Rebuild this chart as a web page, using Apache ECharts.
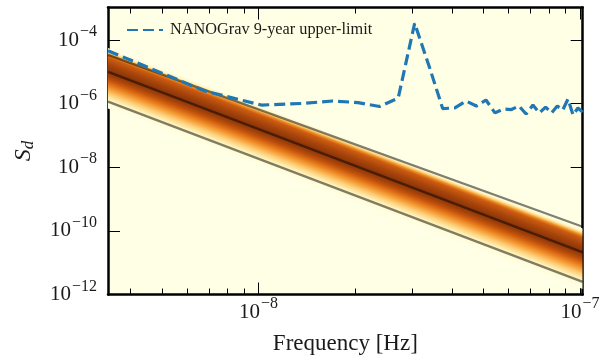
<!DOCTYPE html>
<html><head><meta charset="utf-8">
<script src="https://cdn.jsdelivr.net/npm/echarts@6/dist/echarts.min.js"></script>
<style>html,body{margin:0;padding:0;background:#fff}#c{width:601px;height:360px}</style>
</head><body><div id="c"></div>
<script>
// NANOGrav 9-year upper limit (frequency in Hz, S_d)
const limitFreq = [3.4e-9, 6.8e-9, 1.02e-8, 1.36e-8, 1.7e-8, 2.04e-8, 2.38e-8, 2.72e-8, 3.06e-8, 3.4e-8,
  3.74e-8, 4.08e-8, 4.42e-8, 4.76e-8, 5.1e-8, 5.44e-8, 5.78e-8, 6.12e-8, 6.46e-8, 6.8e-8,
  7.14e-8, 7.48e-8, 7.82e-8, 8.16e-8, 8.5e-8, 8.84e-8, 9.18e-8, 9.52e-8, 9.86e-8, 1.02e-7];
const limitSd = [4.6e-5, 2.5e-6, 9.0e-7, 1.01e-6, 1.21e-6, 1.08e-6, 8.1e-7, 1.5e-6, 3.35e-4, 1.42e-5,
  7.0e-7, 7.3e-7, 1.21e-6, 8.4e-7, 1.3e-6, 5.1e-7, 6.8e-7, 6.5e-7, 8.4e-7, 4.7e-7,
  9.0e-7, 5.1e-7, 7.8e-7, 5.1e-7, 8.4e-7, 6.3e-7, 1.4e-6, 4.4e-7, 7.3e-7, 5.4e-7];
// model band: centre (median) line and bounding lines at the two ends of the frequency range
const bandFreq = [3.4e-9, 1.02e-7];
const bandCenter = [1.0e-5, 2.1e-11];
const bandUpper = [3.4e-5, 1.35e-10];
const bandLower = [1.15e-6, 2.5e-12];
// axis ticks
const xMajorTicks = [1e-8, 1e-7];
const xMinorTicks = [4e-9, 5e-9, 6e-9, 7e-9, 8e-9, 9e-9, 2e-8, 3e-8, 4e-8, 5e-8, 6e-8, 7e-8, 8e-8, 9e-8];
const yMajorTicks = [1e-12, 1e-10, 1e-8, 1e-6, 1e-4];
const xRange = [3.4e-9, 1.02e-7];
const yRange = [1e-12, 1.05e-3];
const legendLabel = 'NANOGrav 9-year upper-limit';

const SERIF = '"Liberation Serif", "DejaVu Serif", serif';
// density profile across the band (offset in decades from centre line, colour)
const BAND_TOP = 0.75, BAND_BOT = 1.15;
const profile = [
  [0.75, '#ffffe5'], [0.66, '#fff4c4'], [0.59, '#fcc866'], [0.53, '#ec8a24'], [0.45, '#cc5c10'],
  [0.25, '#aa460c'], [0.05, '#8e3608'], [-0.10, '#9c3e08'], [-0.25, '#c2520c'], [-0.40, '#e4781a'],
  [-0.55, '#f7a43e'], [-0.70, '#fdd17e'], [-0.85, '#fff0b4'], [-1.00, '#fffcd8'], [-1.15, '#ffffe5']
];
const stops = profile.map(p => ({offset: (BAND_TOP - p[0]) / (BAND_TOP + BAND_BOT), color: p[1]}));

function renderBand(params, api) {
  const f0 = bandFreq[0], f1 = bandFreq[1], c0 = bandCenter[0], c1 = bandCenter[1];
  const p0 = api.coord([f0, c0]), p1 = api.coord([f1, c1]);
  const q0 = api.coord([f0, c0 * 10]);
  const pxDec = p0[1] - q0[1];
  const dx = p1[0] - p0[0], dy = p1[1] - p0[1];
  const L = Math.hypot(dx, dy);
  const ux = dx / L, uy = dy / L;
  const nx = uy, ny = -ux;
  const dTop = BAND_TOP * pxDec * ux, dBot = BAND_BOT * pxDec * ux;
  const fill = {type: 'linear', global: true,
    x: p0[0] + nx * dTop, y: p0[1] + ny * dTop, x2: p0[0] - nx * dBot, y2: p0[1] - ny * dBot,
    colorStops: stops};
  const kt = Math.pow(10, BAND_TOP), kb = Math.pow(10, BAND_BOT);
  const pts = [[f0, c0 * kt], [f1, c1 * kt], [f1, c1 / kb], [f0, c0 / kb]].map(d => api.coord(d));
  const cs = params.coordSys;
  return {type: 'polygon', shape: {points: pts}, style: {fill: fill},
    clipPath: {type: 'rect', shape: {x: cs.x, y: cs.y, width: cs.width, height: cs.height}}};
}

function expLabel(v) {
  const e = Math.round(Math.log10(v));
  return '{a|10}{b|' + (e < 0 ? '\u2212' : '') + Math.abs(e) + '}';
}
const labelRich = {
  a: {fontFamily: SERIF, fontSize: 21, color: '#1a1a1a', lineHeight: 21, verticalAlign: 'middle'},
  b: {fontFamily: SERIF, fontSize: 16, color: '#1a1a1a', lineHeight: 15, verticalAlign: 'middle', padding: [0, 0, 16, 1]}
};
const AXLINE = {show: true, lineStyle: {color: '#000', width: 2.5}};

function xAxisDef(pos, ticks, len, showLine, showLabel) {
  return {type: 'log', logBase: 10, min: xRange[0], max: xRange[1], position: pos, gridIndex: 0,
    axisLine: showLine ? AXLINE : {show: false},
    axisTick: {show: true, inside: true, length: len, customValues: ticks, lineStyle: {color: '#000', width: 1}},
    axisLabel: showLabel ? {show: true, customValues: xMajorTicks, formatter: expLabel, rich: labelRich, margin: 7} : {show: false},
    splitLine: {show: false}, minorTick: {show: false}};
}
function yAxisDef(pos, showLabel) {
  return {type: 'log', logBase: 10, min: yRange[0], max: yRange[1], position: pos, gridIndex: 0,
    axisLine: AXLINE,
    axisTick: {show: true, inside: true, length: 12, customValues: yMajorTicks, lineStyle: {color: '#000', width: 1}},
    axisLabel: showLabel ? {show: true, customValues: yMajorTicks, formatter: expLabel, rich: labelRich, margin: 11} : {show: false},
    splitLine: {show: false}};
}

const xAxes = [
  xAxisDef('bottom', xMajorTicks, 12, true, true),
  xAxisDef('bottom', xMinorTicks, 6, false, false),
  xAxisDef('top', xMajorTicks, 12, true, false),
  xAxisDef('top', xMinorTicks, 6, false, false)
];
xAxes[0].name = 'Frequency [Hz]';
xAxes[0].nameLocation = 'middle';
xAxes[0].nameGap = 38;
xAxes[0].nameTextStyle = {fontFamily: SERIF, fontSize: 23, color: '#1a1a1a'};

const yAxes = [yAxisDef('left', true), yAxisDef('right', false)];
yAxes[0].name = '{s|S}{d|d}';
yAxes[0].nameLocation = 'middle';
yAxes[0].nameGap = 72;
yAxes[0].nameRotate = 90;
yAxes[0].nameTextStyle = {rich: {
  s: {fontFamily: SERIF, fontStyle: 'italic', fontSize: 24, color: '#1a1a1a', lineHeight: 24, verticalAlign: 'middle'},
  d: {fontFamily: SERIF, fontStyle: 'italic', fontSize: 17, color: '#1a1a1a', lineHeight: 17, verticalAlign: 'middle', padding: [10, 0, 0, 0]}
}};

const lineGrey = {color: 'rgba(0,0,0,0.5)', width: 2.3};
const option = {
  animation: false,
  backgroundColor: '#ffffff',
  grid: {left: 108, right: 18.3, top: 7.5, bottom: 65.5, show: true, backgroundColor: '#ffffe5', borderWidth: 0,
    containLabel: false, outerBoundsMode: 'none'},
  xAxis: xAxes,
  yAxis: yAxes,
  legend: {
    data: [legendLabel], left: 121, top: 17, itemWidth: 36, itemHeight: 14,
    itemStyle: {opacity: 0},
    textStyle: {fontFamily: SERIF, fontSize: 16.3, color: '#1a1a1a', padding: [0, 0, 0, 2]},
    selectedMode: false
  },
  series: [
    {type: 'custom', name: 'band', renderItem: renderBand, data: [[bandFreq[0], bandCenter[0]]],
      xAxisIndex: 0, yAxisIndex: 0, silent: true, z: 1},
    {type: 'line', name: 'upper', data: bandFreq.map((f, i) => [f, bandUpper[i]]), symbol: 'none',
      lineStyle: lineGrey, silent: true, z: 2},
    {type: 'line', name: 'centre', data: bandFreq.map((f, i) => [f, bandCenter[i]]), symbol: 'none',
      lineStyle: lineGrey, silent: true, z: 2},
    {type: 'line', name: 'lower', data: bandFreq.map((f, i) => [f, bandLower[i]]), symbol: 'none',
      lineStyle: lineGrey, silent: true, z: 2},
    {type: 'line', name: legendLabel, data: limitFreq.map((f, i) => [f, limitSd[i]]), symbol: 'none',
      lineStyle: {color: '#1f77b4', width: 3.2, type: [11, 5]}, itemStyle: {color: '#1f77b4'}, z: 3}
  ]
};
const chart = echarts.init(document.getElementById('c'), null, {renderer: 'canvas'});
chart.setOption(option);
</script>
</body></html>
